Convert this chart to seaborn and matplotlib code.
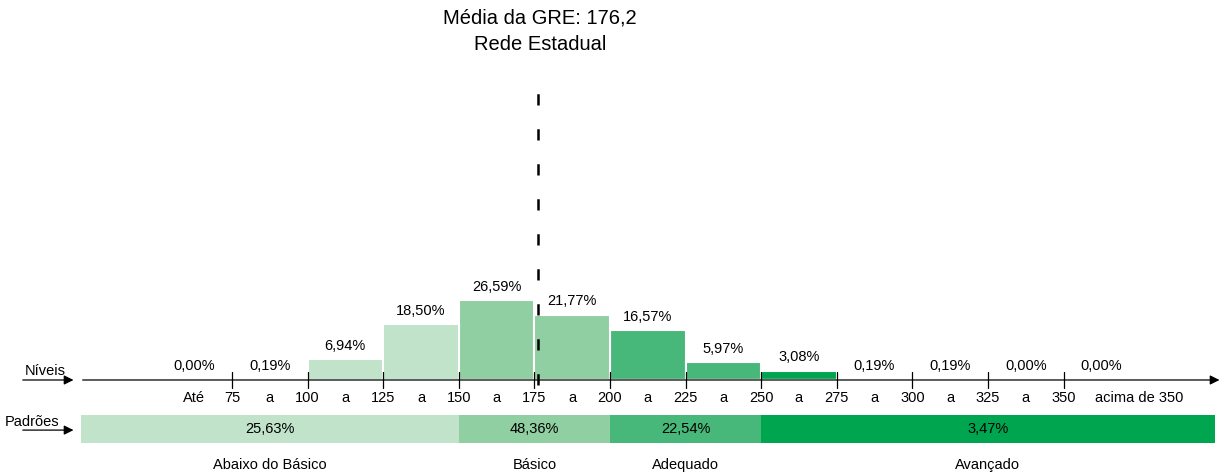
import numpy as np
import pandas as pd
import matplotlib
matplotlib.use("Agg")
import matplotlib.pyplot as plt
import seaborn as sns

# -----------------------------
# Dados
# -----------------------------
bordas = [50, 75, 100, 125, 150, 175, 200, 225, 250, 275, 300, 325, 350, 375]
percentuais = [0.00, 0.19, 6.94, 18.50, 26.59, 21.77, 16.57, 5.97, 3.08, 0.19, 0.19, 0.00, 0.00]
padrao_bin = ["Abaixo do Básico"] * 4 + ["Básico"] * 2 + ["Adequado"] * 2 + ["Avançado"] * 5

padroes = ["Abaixo do Básico", "Básico", "Adequado", "Avançado"]
padroes_pct = [25.63, 48.36, 22.54, 3.47]
padroes_ini = [25, 150, 200, 250]
padroes_fim = [150, 200, 250, 400]
cores = ["#c1e3ca", "#8fcfa1", "#47b879", "#00a54f"]

ticks = [75, 100, 125, 150, 175, 200, 225, 250, 275, 300, 325, 350]
media = 176.2

# -----------------------------
# Figura
# -----------------------------
sns.set_theme(style="white")
plt.rcParams["font.family"] = ["Liberation Sans", "DejaVu Sans"]
plt.rcParams["text.color"] = "black"

fig = plt.figure(figsize=(12.28, 4.75), dpi=100)
ax = fig.add_axes([0, 0, 1, 1])

centros = [(bordas[i] + bordas[i + 1]) / 2 for i in range(len(percentuais))]
df = pd.DataFrame({"centro": centros, "pct": percentuais, "padrao": padrao_bin})

sns.histplot(data=df, x="centro", weights="pct", bins=bordas, hue="padrao",
             hue_order=padroes, palette=dict(zip(padroes, cores)), alpha=1,
             edgecolor="white", linewidth=1.5, legend=False, ax=ax)
ax.set_xlim(-1.72, 404.4)
ax.set_ylim(-31.67, 126.67)
ax.axis("off")

fs = 10.5

# rótulos das barras
for c, v in zip(centros, percentuais):
    ax.text(c, v + 4.5, f"{v:.2f}%".replace(".", ","), ha="center", va="center", fontsize=fs)

# eixo com seta
ax.annotate("", xy=(402.5, 0), xytext=(24.7, 0),
            arrowprops=dict(arrowstyle="-|>", color="black", lw=0.9, mutation_scale=14))
for t in ticks:
    ax.plot([t, t], [-2.7, 2.7], color="black", lw=0.9)
    ax.text(t, -6, str(t), ha="center", va="center", fontsize=fs)
for i in range(len(ticks) - 1):
    ax.text((ticks[i] + ticks[i + 1]) / 2, -6, "a", ha="center", va="center", fontsize=fs)
ax.text(62.5, -6, "Até", ha="center", va="center", fontsize=fs)
ax.text(375, -6, "acima de 350", ha="center", va="center", fontsize=fs)

# Níveis / Padrões
ax.text(13.2, 3.0, "Níveis", ha="center", va="center", fontsize=fs)
ax.annotate("", xy=(23.5, 0), xytext=(4.9, 0),
            arrowprops=dict(arrowstyle="-|>", color="black", lw=0.9, mutation_scale=14))
ax.text(8.9, -14.0, "Padrões", ha="center", va="center", fontsize=fs)
ax.annotate("", xy=(23.5, -16.7), xytext=(4.9, -16.7),
            arrowprops=dict(arrowstyle="-|>", color="black", lw=0.9, mutation_scale=14))

# barra de padrões
for nome, p, a, b, cor in zip(padroes, padroes_pct, padroes_ini, padroes_fim, cores):
    ax.barh(-16.4, b - a, left=a, height=9.3, color=cor, edgecolor="none")
    ax.text((a + b) / 2, -16.4, f"{p:.2f}%".replace(".", ","), ha="center", va="center", fontsize=fs)
ax.text(87.5, -28.3, "Abaixo do Básico", ha="center", va="center", fontsize=fs)
ax.text(175, -28.3, "Básico", ha="center", va="center", fontsize=fs)
ax.text(225, -28.3, "Adequado", ha="center", va="center", fontsize=fs)
ax.text(325, -28.3, "Avançado", ha="center", va="center", fontsize=fs)

# linha da média
ax.plot([media, media], [-1.7, 96.7], color="black", lw=1.8, linestyle=(0, (4.5, 9.5)))
ax.text(media + 0.7, 120.7, "Média da GRE: 176,2", ha="center", va="center", fontsize=14.5)
ax.text(media + 0.7, 111.7, "Rede Estadual", ha="center", va="center", fontsize=14.5)

fig.savefig("out.png", dpi=100)
